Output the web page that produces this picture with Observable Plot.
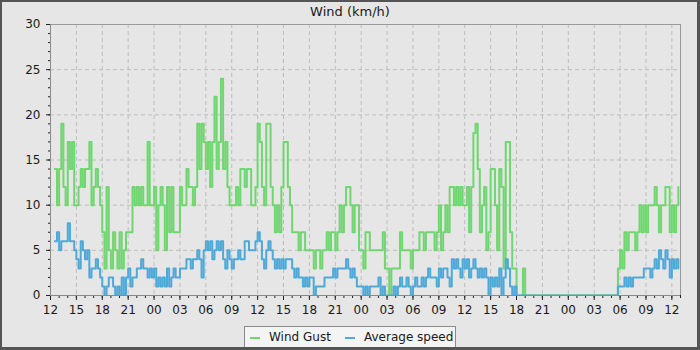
<!DOCTYPE html>
<html>
<head>
<meta charset="utf-8">
<script src="https://cdn.jsdelivr.net/npm/d3@7"></script>
<script src="https://cdn.jsdelivr.net/npm/@observablehq/plot@0.6"></script>
<style>
  html, body { margin: 0; padding: 0; background: #e6e6e6; }
  #wrap { position: relative; width: 700px; height: 350px; overflow: hidden; background: #e6e6e6; font-family: "DejaVu Sans", sans-serif; }
  #title { position: absolute; left: 0; top: 4px; width: 700px; text-align: center; font-size: 13px; line-height: 15px; color: #1a1a1a; }
  #chart { position: absolute; left: 0; top: 0; }
  #legend { position: absolute; left: 244px; top: 326px; width: 212px; height: 24px; box-sizing: border-box; border: 1px solid #8a8a8a; background: #f4f4f4; font-size: 12px; color: #1a1a1a; }
  .item { position: absolute; top: 3px; line-height: 15px; }
  .sw { position: absolute; top: 10px; width: 10px; height: 2px; }
  #border { position: absolute; left: 0; top: 0; width: 700px; height: 350px; box-sizing: border-box; border-style: solid; border-color: #555; border-width: 2px 3px 3px 2px; pointer-events: none; }
</style>
</head>
<body>
<div id="wrap">
  <div id="chart"></div>
  <div id="title"></div>
  <div id="legend"></div>
  <div id="border"></div>
</div>
<script>
// ---- data (readings every 15 minutes, starting 12:30 on day 1) ----
const chartTitle = "Wind (km/h)";
const seriesNames = ["Wind Gust", "Average speed"];
const seriesColors = ["#70d670", "#4ea9d9"];
const startTime = Date.UTC(2024, 0, 1, 12, 30);
const stepMinutes = 15;
const domainStart = Date.UTC(2024, 0, 1, 12, 0);
const domainEnd = Date.UTC(2024, 0, 4, 13, 0);
const yTicks = [0, 5, 10, 15, 20, 25, 30];

const gust = [
  14,10, 14,19,12,10, 17,14,17,10,
  10,12,14,12, 14,14,17,10, 12,14,12,10,
  7,3,12,5, 3,7,5,3, 7,3,5,7,
  7,7,12,10, 12,10,12,10, 10,17,10,10,
  12,5,10,12, 10,5,12,7, 12,7,7,7,
  12,10,10,14, 12,12,10,12, 19,14,19,17,
  14,17,12,17, 22,14,17,24, 14,17,12,10,
  10,10,12,10, 14,14,12,14, 14,10,10,12,
  19,17,12,10, 19,19,12,10, 7,10,7,12,
  17,17,12,10, 7,7,7,5, 7,7,5,5,
  5,5,3,5, 5,3,5,5, 7,5,7,7,
  5,7,10,7, 10,12,12,10, 7,10,10,5,
  5,3,7,7, 5,5,5,5, 5,5,7,3,
  3,0,3,3, 3,3,7,5, 5,5,5,3,
  5,5,5,7, 7,5,7,7, 7,7,5,7,
  10,5,7,10, 7,12,12,10, 12,10,12,10,
  10,12,7,12, 18,19,14,7, 10,12,5,7,
  14,14,10,5, 14,12,3,17, 17,7,3,3,
  0,0,0,3, 0,0,0,0, 0,0,0,0,
  0,0,0,0, 0,0,0,0, 0,0,0,0,
  0,0,0,0, 0,0,0,0, 0,0,0,0,
  0,0,0,0, 0,0,0,0, 0,0,0,3,
  5,3,7,5, 7,7,7,5, 7,10,7,10,
  7,10,10,10, 12,10,7,10, 10,12,12,7,
  10,7,10,12
];

const average = [
  6,7, 5,6,6,6, 8,6,6,5,
  4,3,6,5, 4,5,2,3, 3,4,3,2,
  1,0,1,2, 2,1,0,1, 0,2,0,2,
  3,1,2,2, 3,3,4,3, 3,2,3,2,
  3,1,2,1, 2,1,3,1, 2,3,2,2,
  3,3,3,4, 4,3,4,4, 5,4,2,5,
  6,5,6,4, 5,6,5,6, 4,3,5,4,
  3,4,4,5, 4,4,6,6, 5,5,5,6,
  7,6,4,3, 5,6,5,4, 3,4,3,4,
  3,4,4,4, 3,2,3,2, 2,1,2,1,
  2,2,0,1, 1,1,1,2, 2,2,2,3,
  2,3,3,3, 3,4,3,2, 3,2,1,1,
  1,0,1,0, 1,1,1,1, 2,0,1,0,
  0,0,0,1, 0,1,2,1, 1,2,1,0,
  1,2,1,1, 2,1,2,3, 2,2,2,1,
  3,2,3,3, 2,1,4,3, 4,3,2,4,
  3,4,2,3, 4,3,2,3, 2,3,2,0,
  2,1,2,1, 3,0,2,4, 3,1,0,1,
  0,0,0,0, 0,0,0,0, 0,0,0,0,
  0,0,0,0, 0,0,0,0, 0,0,0,0,
  0,0,0,0, 0,0,0,0, 0,0,0,0,
  0,0,0,0, 0,0,0,0, 0,0,0,1,
  1,1,2,1, 2,1,2,2, 2,2,2,3,
  3,3,2,3, 4,3,5,4, 3,5,4,2,
  4,3,4,3
];

// ---- build table ----
const data = gust.map((g, i) => ({
  time: new Date(startTime + i * stepMinutes * 60000),
  gust: g,
  avg: average[i]
}));

const x0 = new Date(domainStart), x1 = new Date(domainEnd);
const majorX = d3.utcHour.every(3).range(x0, new Date(domainEnd + 1));
const minorX = d3.utcHour.every(1).range(x0, new Date(domainEnd + 1));
const minorY = d3.range(0, 31, 1);
const fmt = d3.utcFormat("%H");

const chart = Plot.plot({
  width: 700,
  height: 318,
  marginLeft: 50,
  marginRight: 20,
  marginTop: 24,
  marginBottom: 23,
  style: { background: "transparent", fontFamily: "DejaVu Sans", fontSize: "12px", color: "#1a1a1a" },
  x: { type: "utc", domain: [x0, x1], label: null },
  y: { domain: [0, 30], label: null },
  marks: [
    Plot.gridX(majorX, { stroke: "#bdbdbd", strokeOpacity: 1, strokeDasharray: "4,3" }),
    Plot.gridY(yTicks, { stroke: "#bdbdbd", strokeOpacity: 1, strokeDasharray: "4,3" }),
    Plot.frame({ stroke: "#9a9a9a" }),
    Plot.axisX(minorX, { tickSize: 3, tickFormat: () => "", label: null, stroke: "#222" }),
    Plot.axisX(majorX, { tickSize: 5, tickPadding: 5, tickFormat: fmt, label: null, stroke: "#222", fill: "#1a1a1a" }),
    Plot.axisY(minorY, { tickSize: 2, tickFormat: () => "", label: null, stroke: "#222" }),
    Plot.axisY(yTicks, { tickSize: 4, tickPadding: 6, label: null, stroke: "#222", fill: "#1a1a1a" }),
    Plot.ruleY([0], { stroke: "#8a8a8a" }),
    Plot.ruleX([x0], { stroke: "#8a8a8a" }),
    Plot.line(data, { x: "time", y: "gust", curve: "step-after", stroke: seriesColors[0], strokeWidth: 2, clip: true }),
    Plot.line(data, { x: "time", y: "avg", curve: "step-after", stroke: seriesColors[1], strokeWidth: 2, clip: true })
  ]
});
document.getElementById("chart").appendChild(chart);
document.getElementById("title").textContent = chartTitle;

const legend = document.getElementById("legend");
const swX = [5, 100], txtX = [24, 119];
seriesNames.forEach((name, i) => {
  const sw = document.createElement("div");
  sw.className = "sw";
  sw.style.left = swX[i] + "px";
  sw.style.background = seriesColors[i];
  legend.appendChild(sw);
  const t = document.createElement("div");
  t.className = "item";
  t.style.left = txtX[i] + "px";
  t.textContent = name;
  legend.appendChild(t);
});
</script>
</body>
</html>
